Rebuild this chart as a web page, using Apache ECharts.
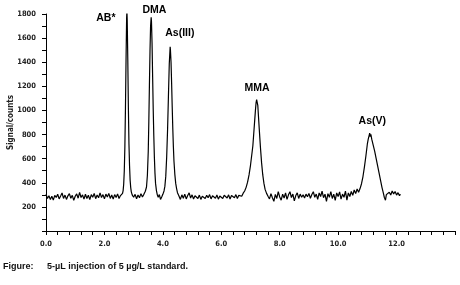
<!DOCTYPE html>
<html>
<head>
<meta charset="utf-8">
<script src="https://cdn.jsdelivr.net/npm/echarts@6/dist/echarts.min.js"></script>
<style>html,body{margin:0;padding:0;background:#fff}#c{width:460px;height:285px}</style>
</head>
<body>
<div id="c"></div>
<script>
// Retention time (min)
const time = [
0.00,0.05,0.10,0.15,0.20,0.25,0.30,0.35,0.40,0.45,0.50,0.55,0.60,0.65,0.70,0.75,0.80,0.85,0.90,0.95,
1.00,1.05,1.10,1.15,1.20,1.25,1.30,1.35,1.40,1.45,1.50,1.55,1.60,1.65,1.70,1.75,1.80,1.85,1.90,1.95,
2.00,2.05,2.10,2.15,2.20,2.25,2.30,2.35,2.40,2.45,2.50,2.55,2.60,
2.62,2.64,2.66,2.68,2.70,2.72,2.74,2.76,2.77,2.78,2.80,2.82,2.84,2.86,2.88,2.90,2.92,2.95,
3.00,3.05,3.10,3.15,3.20,3.25,3.30,3.35,3.40,
3.44,3.47,3.50,3.52,3.54,3.56,3.58,3.60,3.61,3.63,3.65,3.67,3.69,3.71,3.73,3.75,3.78,3.81,
3.84,3.88,3.92,3.96,4.00,4.04,
4.07,4.10,4.13,4.16,4.19,4.22,4.25,4.26,4.28,4.30,4.32,4.34,4.36,4.38,4.41,4.44,4.47,4.50,4.54,
4.60,4.65,4.70,4.75,4.80,4.85,4.90,4.95,5.00,5.05,5.10,5.15,5.20,5.25,5.30,5.35,5.40,5.45,5.50,5.55,
5.60,5.65,5.70,5.75,5.80,5.85,5.90,5.95,6.00,6.05,6.10,6.15,6.20,6.25,6.30,6.35,6.40,6.45,6.50,6.55,
6.60,6.65,6.70,6.75,6.80,6.85,
6.90,6.95,7.00,7.05,7.08,7.11,7.14,7.17,7.19,7.21,7.22,7.23,7.25,7.27,7.30,7.34,7.38,7.42,7.46,7.50,7.55,7.60,
7.65,7.70,7.75,7.80,7.85,7.90,7.95,8.00,8.05,8.10,8.15,8.20,8.25,8.30,8.35,8.40,8.45,8.50,8.55,8.60,
8.65,8.70,8.75,8.80,8.85,8.90,8.95,9.00,9.05,9.10,9.15,9.20,9.25,9.30,9.35,9.40,9.45,9.50,9.55,9.60,
9.65,9.70,9.75,9.80,9.85,9.90,9.95,10.00,10.05,10.10,10.15,10.20,10.25,10.30,10.35,10.40,10.45,10.50,10.55,10.60,10.65,
10.70,10.75,10.80,10.85,10.90,10.95,11.00,11.03,11.06,11.08,11.10,11.12,11.15,11.20,11.25,11.30,11.35,11.40,11.45,11.50,11.55,11.58,
11.62,11.65,11.70,11.75,11.80,11.85,11.90,11.95,12.00,12.05,12.10,12.13
];
// Signal (counts)
const signal = [
305,270,292,262,288,256,296,278,305,266,290,315,270,298,262,292,310,272,296,254,
288,308,272,320,278,300,264,305,270,296,260,302,280,312,268,298,276,316,278,302,
266,306,282,312,270,298,264,302,278,308,270,294,304,
312,335,390,500,700,1020,1420,1770,1825,1750,1420,1020,720,540,420,360,325,300,
280,304,268,298,276,310,282,304,330,
365,460,660,910,1210,1490,1700,1772,1740,1560,1280,1010,790,610,480,395,335,300,
280,302,262,282,304,332,
372,455,610,830,1110,1390,1528,1500,1400,1225,1030,850,700,580,470,395,352,318,296,
262,300,272,306,266,294,316,274,300,266,292,306,270,298,262,288,304,270,296,276,
302,266,292,306,272,298,264,290,302,270,296,306,274,300,266,294,310,276,302,270,
296,312,288,314,332,362,
405,465,545,645,705,805,905,1005,1062,1090,1100,1080,1042,962,845,695,565,465,395,345,312,288,
266,310,276,246,304,270,326,282,256,306,274,316,262,300,326,278,306,250,294,316,
270,306,280,300,274,306,284,312,272,302,326,280,306,262,316,286,330,276,306,246,
310,280,326,270,306,254,316,286,324,264,306,280,330,256,316,286,328,296,340,310,348,
322,352,392,452,532,622,722,762,792,812,782,802,762,712,662,602,542,482,422,362,312,280,
255,302,288,322,298,332,308,328,298,318,292,306
];
const peakNames = ['AB*','DMA','As(III)','MMA','As(V)'];
const peakLabelTime = [2.05,3.71,4.58,7.22,11.17];
const peakLabelValue = [1767,1833,1642,1183,908];
const yTicks = [0,200,400,600,800,1000,1200,1400,1600,1800];

const tickFont = 'Liberation Sans Narrow, DejaVu Sans Condensed, Arial, sans-serif';
const labelFont = 'Liberation Sans, Arial, sans-serif';
const chart = echarts.init(document.getElementById('c'), null, {renderer:'canvas'});
const option = {
  animation:false,
  backgroundColor:'#fff',
  grid:{left:46,right:5,top:14,bottom:54,containLabel:false,outerBoundsMode:'none'},
  xAxis:{
    type:'value',min:0,max:14,interval:2,
    axisLine:{lineStyle:{color:'#000',width:1}},
    axisTick:{show:true,length:4,lineStyle:{color:'#000'}},
    minorTick:{show:true,splitNumber:5,length:4,lineStyle:{color:'#000'}},
    splitLine:{show:false},
    axisLabel:{margin:9,color:'#222',fontSize:7.5,fontWeight:'bold',fontFamily:tickFont,
      formatter:v=>v===14?'':v.toFixed(1)}
  },
  yAxis:{
    type:'value',min:yTicks[0],max:yTicks[yTicks.length-1],interval:200,
    name:'Signal/counts',nameLocation:'middle',nameGap:31,nameMoveOverlap:false,
    nameTextStyle:{color:'#222',fontSize:8,fontFamily:tickFont,fontWeight:'bold'},
    axisLine:{show:true,lineStyle:{color:'#000',width:1}},
    axisTick:{show:true,length:4,lineStyle:{color:'#000'}},
    minorTick:{show:true,splitNumber:2,length:4,lineStyle:{color:'#000'}},
    splitLine:{show:false},
    axisLabel:{margin:10,color:'#222',fontSize:7.5,fontWeight:'bold',fontFamily:tickFont,
      formatter:v=>v===0?'':String(v)}
  },
  series:[{
    type:'line',
    data:time.map((t,i)=>[t,signal[i]]),
    showSymbol:false,symbol:'none',
    lineStyle:{color:'#000',width:1.2}
  }],
  graphic:[
    {type:'text',left:3,top:262,style:{text:'Figure:',fontSize:9,fontWeight:'bold',fill:'#111',fontFamily:labelFont}},
    {type:'text',left:47,top:262,style:{text:'5-µL injection of 5 µg/L standard.',fontSize:9,fontWeight:'bold',fill:'#111',fontFamily:labelFont}}
  ]
};
chart.setOption(option);
const peakGraphics = peakNames.map((n,i)=>{
  const p = chart.convertToPixel({gridIndex:0},[peakLabelTime[i],peakLabelValue[i]]);
  return {type:'text',x:p[0],y:p[1],style:{text:n,fontSize:10.5,fontWeight:'bold',fill:'#000',
    fontFamily:labelFont,align:'center',verticalAlign:'middle'}};
});
chart.setOption({graphic:option.graphic.concat(peakGraphics)});
</script>
</body>
</html>
